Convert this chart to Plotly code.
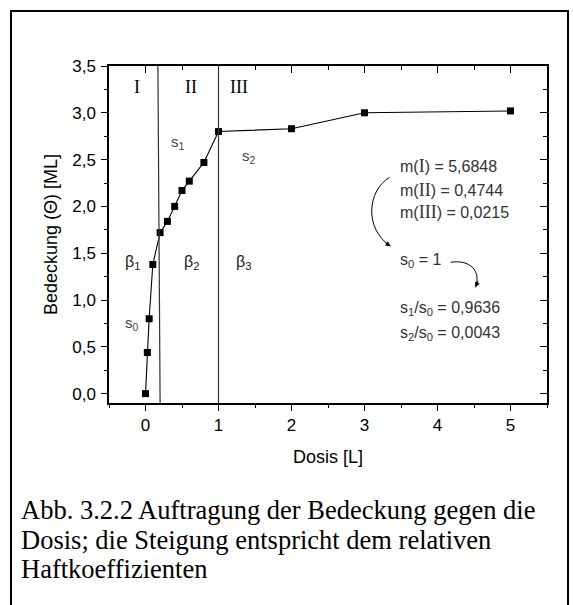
import plotly.graph_objects as go

# Dose (Langmuir) and coverage (monolayers)
dose = [0, 0.025, 0.05, 0.1, 0.2, 0.3, 0.4, 0.5, 0.6, 0.8, 1.0, 2.0, 3.0, 5.0]
coverage = [0.0, 0.44, 0.80, 1.38, 1.72, 1.84, 2.00, 2.17, 2.27, 2.47, 2.80, 2.83, 3.00, 3.02]

x_ticks = [0, 1, 2, 3, 4, 5]
y_ticks = [0.0, 0.5, 1.0, 1.5, 2.0, 2.5, 3.0, 3.5]

region_labels = ["I", "II", "III"]
slope_regions = ["I", "II", "III"]
slope_values = ["5,6848", "0,4744", "0,0215"]

caption_lines = [
    "Abb. 3.2.2 Auftragung der Bedeckung gegen die",
    "Dosis; die Steigung entspricht dem relativen",
    "Haftkoeffizienten",
]

W, H = 573, 605
L, R, T, B = 109, 26, 66, 202
X_RANGE = [-0.5, 5.5]
Y_RANGE = [-0.1, 3.5]


def px_paper(px, py):
    """Pixel position in the page -> paper coordinates."""
    pw = W - L - R
    ph = H - T - B
    return (px - L) / pw, (H - B - py) / ph


SANS = "Arial, Liberation Sans, sans-serif"
SERIF = "Times New Roman, Liberation Serif, serif"
ROMAN = "<span style=\"font-family:'Liberation Serif'; font-size:18px\">{}</span>"

fig = go.Figure()

fig.add_trace(go.Scatter(
    x=dose, y=coverage, mode="lines+markers",
    line=dict(color="black", width=1.1),
    marker=dict(symbol="square", size=7, color="black"),
    showlegend=False, hoverinfo="x+y",
))
# empty trace that carries the mirrored top/right axes
fig.add_trace(go.Scatter(x=[], y=[], xaxis="x2", yaxis="y2", showlegend=False))

axis_common = dict(showgrid=False, zeroline=False, showline=True,
                   linecolor="black", linewidth=1.5, tickcolor="black",
                   tickwidth=1.2)

fig.update_layout(
    width=W, height=H,
    margin=dict(l=L, r=R, t=T, b=B),
    paper_bgcolor="white", plot_bgcolor="white",
    separators=",.",
    font=dict(family=SANS, color="black", size=16),
    xaxis=dict(range=X_RANGE, tickvals=x_ticks, ticks="outside", ticklen=6,
               minor=dict(dtick=0.5, tick0=0, ticks="outside", ticklen=3,
                          tickcolor="black", tickwidth=1.2),
               tickfont=dict(size=17, family=SANS),
               title=dict(text="Dosis [L]", font=dict(size=18, family=SANS), standoff=16),
               **axis_common),
    yaxis=dict(range=Y_RANGE, tickvals=y_ticks, tickformat=".1f", ticks="outside",
               ticklen=6, ticklabelstandoff=2,
               minor=dict(dtick=0.25, tick0=0, ticks="outside", ticklen=3,
                          tickcolor="black", tickwidth=1.2),
               tickfont=dict(size=17, family=SANS),
               title=dict(text="Bedeckung (\u0398) [ML]", font=dict(size=18, family=SANS),
                          standoff=10),
               **axis_common),
    xaxis2=dict(range=X_RANGE, overlaying="x", side="top", anchor="y",
                tickvals=x_ticks, ticks="inside", ticklen=7, showticklabels=False,
                minor=dict(dtick=0.5, tick0=0, ticks="inside", ticklen=4,
                           tickcolor="black", tickwidth=1.2),
                **axis_common),
    yaxis2=dict(range=Y_RANGE, overlaying="y", side="right", anchor="x",
                tickvals=y_ticks, ticks="inside", ticklen=7, showticklabels=False,
                minor=dict(dtick=0.25, tick0=0, ticks="inside", ticklen=4,
                           tickcolor="black", tickwidth=1.2),
                **axis_common),
)

# region boundaries
fig.add_shape(type="line", xref="x", yref="y", x0=0.2, y0=Y_RANGE[0], x1=0.17, y1=Y_RANGE[1],
              line=dict(color="#333333", width=1.2))
fig.add_shape(type="line", xref="x", yref="y", x0=1.0, y0=Y_RANGE[0], x1=1.0, y1=Y_RANGE[1],
              line=dict(color="#333333", width=1.2))

# region numerals
for name, xc in zip(region_labels, [-0.115, 0.62, 1.275]):
    fig.add_annotation(x=xc, y=3.28, xref="x", yref="y", text=name, showarrow=False,
                       font=dict(family=SERIF, size=18, color="black"))

# sticking coefficient and beta labels
GRAY = "#444444"
small = [("s<sub>1</sub>", 0.32, 2.68), ("s<sub>2</sub>", 1.30, 2.53),
         ("s<sub>0</sub>", -0.315, 0.75)]
for txt, xx, yy in small:
    fig.add_annotation(x=xx, y=yy, xref="x", yref="y", text=txt, showarrow=False,
                       xanchor="left", font=dict(family=SANS, size=15, color=GRAY))
for i, xx in enumerate([-0.305, 0.495, 1.215]):
    fig.add_annotation(x=xx, y=1.40, xref="x", yref="y", text=f"\u03b2<sub>{i+1}</sub>",
                       showarrow=False, xanchor="left",
                       font=dict(family=SANS, size=16, color="#222222"))

# slopes per region
TXT = "#333333"
for reg, val, yy in zip(slope_regions, slope_values, [2.43, 2.18, 1.943]):
    fig.add_annotation(x=3.46, y=yy, xref="x", yref="y",
                       text="m(" + ROMAN.format(reg) + ") = " + val,
                       showarrow=False, xanchor="left",
                       font=dict(family=SANS, size=16, color=TXT))

fig.add_annotation(x=3.46, y=1.42, xref="x", yref="y", text="s<sub>0</sub> = 1",
                   showarrow=False, xanchor="left",
                   font=dict(family=SANS, size=16, color=TXT))
fig.add_annotation(x=3.46, y=0.91, xref="x", yref="y",
                   text="s<sub>1</sub>/s<sub>0</sub> = 0,9636",
                   showarrow=False, xanchor="left",
                   font=dict(family=SANS, size=16, color=TXT))
fig.add_annotation(x=3.46, y=0.645, xref="x", yref="y",
                   text="s<sub>2</sub>/s<sub>0</sub> = 0,0043",
                   showarrow=False, xanchor="left",
                   font=dict(family=SANS, size=16, color=TXT))

# curved arrows
fig.add_shape(type="path", xref="x", yref="y",
              path="M 3.344,2.311 C 3.043,2.172 2.988,1.766 3.357,1.574",
              line=dict(color="black", width=1))
fig.add_annotation(x=3.357, y=1.574, xref="x", yref="y", text="", showarrow=True,
                   ax=-7, ay=-5, arrowhead=2, arrowsize=1, arrowwidth=1,
                   arrowcolor="black", standoff=0)
fig.add_shape(type="path", xref="x", yref="y",
              path="M 4.179,1.403 C 4.439,1.435 4.603,1.317 4.521,1.136",
              line=dict(color="black", width=1))
fig.add_annotation(x=4.521, y=1.136, xref="x", yref="y", text="", showarrow=True,
                   ax=3, ay=-8, arrowhead=2, arrowsize=1, arrowwidth=1,
                   arrowcolor="black", standoff=0)

# caption
for line, py in zip(caption_lines, [510, 539.5, 569]):
    px_, py_ = px_paper(19, py)
    fig.add_annotation(x=px_, y=py_, xref="paper", yref="paper", text=line,
                       showarrow=False, xanchor="left", yanchor="middle",
                       font=dict(family=SERIF, size=26.5, color="black"))

# outer frame
x0, y0 = px_paper(11, 625)
x1, y1 = px_paper(568, 11)
fig.add_shape(type="rect", xref="paper", yref="paper", x0=x0, y0=y0, x1=x1, y1=y1,
              line=dict(color="black", width=2), layer="above")

fig.write_html("out.html")
